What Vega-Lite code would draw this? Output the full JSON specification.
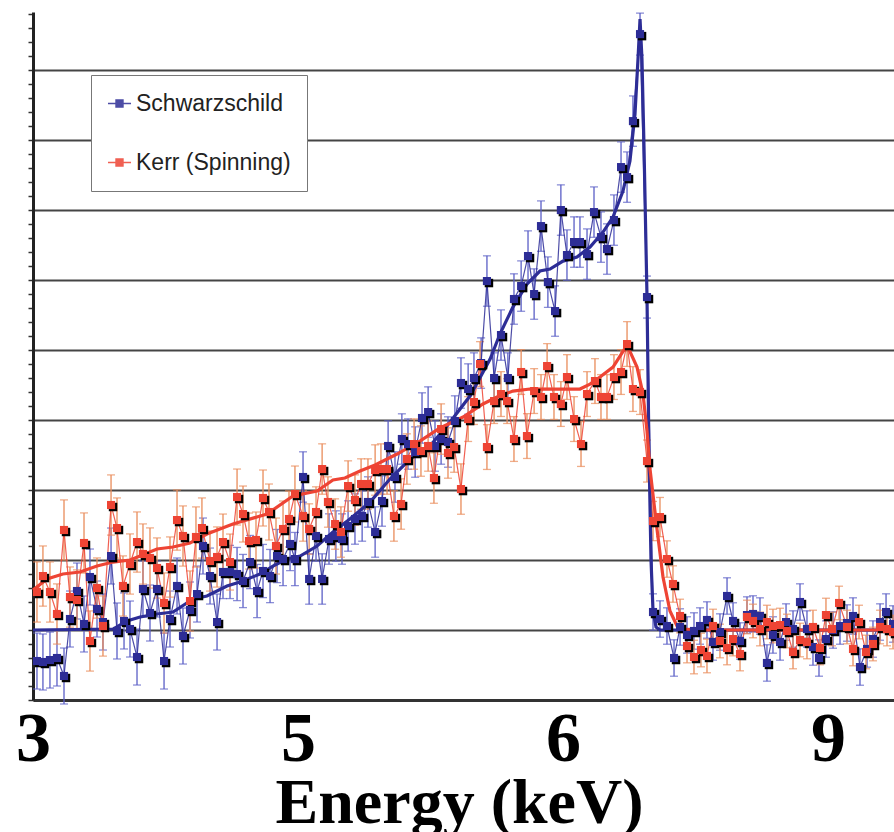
{
  "$schema": "https://vega.github.io/schema/vega-lite/v6.json",
  "width": 861,
  "height": 688,
  "autosize": "none",
  "padding": {"left": 33, "top": 12, "right": 0, "bottom": 132},
  "background": "#ffffff",
  "config": {
    "view": {"stroke": null}
  },
  "datasets": {
    "obs": [
      {"series":"Schwarzschild","energy":3.030,"counts":-0.443,"err":0.40},
      {"series":"Schwarzschild","energy":3.075,"counts":-0.457,"err":0.40},
      {"series":"Schwarzschild","energy":3.128,"counts":-0.429,"err":0.40},
      {"series":"Schwarzschild","energy":3.181,"counts":-0.400,"err":0.40},
      {"series":"Schwarzschild","energy":3.234,"counts":-0.657,"err":0.40},
      {"series":"Schwarzschild","energy":3.279,"counts":0.157,"err":0.40},
      {"series":"Schwarzschild","energy":3.332,"counts":0.557,"err":0.40},
      {"series":"Schwarzschild","energy":3.385,"counts":0.086,"err":0.40},
      {"series":"Schwarzschild","energy":3.430,"counts":0.757,"err":0.40},
      {"series":"Schwarzschild","energy":3.483,"counts":0.300,"err":0.40},
      {"series":"Schwarzschild","energy":3.528,"counts":0.114,"err":0.40},
      {"series":"Schwarzschild","energy":3.589,"counts":1.057,"err":0.40},
      {"series":"Schwarzschild","energy":3.634,"counts":-0.014,"err":0.40},
      {"series":"Schwarzschild","energy":3.687,"counts":0.129,"err":0.40},
      {"series":"Schwarzschild","energy":3.732,"counts":0.014,"err":0.40},
      {"series":"Schwarzschild","energy":3.785,"counts":-0.386,"err":0.40},
      {"series":"Schwarzschild","energy":3.830,"counts":0.586,"err":0.40},
      {"series":"Schwarzschild","energy":3.883,"counts":0.243,"err":0.40},
      {"series":"Schwarzschild","energy":3.936,"counts":0.586,"err":0.40},
      {"series":"Schwarzschild","energy":3.989,"counts":-0.443,"err":0.40},
      {"series":"Schwarzschild","energy":4.034,"counts":0.157,"err":0.40},
      {"series":"Schwarzschild","energy":4.087,"counts":0.629,"err":0.40},
      {"series":"Schwarzschild","energy":4.132,"counts":-0.086,"err":0.40},
      {"series":"Schwarzschild","energy":4.185,"counts":0.286,"err":0.40},
      {"series":"Schwarzschild","energy":4.238,"counts":0.514,"err":0.40},
      {"series":"Schwarzschild","energy":4.283,"counts":1.200,"err":0.40},
      {"series":"Schwarzschild","energy":4.336,"counts":0.771,"err":0.40},
      {"series":"Schwarzschild","energy":4.389,"counts":0.114,"err":0.40},
      {"series":"Schwarzschild","energy":4.434,"counts":0.829,"err":0.38},
      {"series":"Schwarzschild","energy":4.487,"counts":0.829,"err":0.38},
      {"series":"Schwarzschild","energy":4.540,"counts":0.800,"err":0.38},
      {"series":"Schwarzschild","energy":4.585,"counts":0.700,"err":0.38},
      {"series":"Schwarzschild","energy":4.638,"counts":0.971,"err":0.38},
      {"series":"Schwarzschild","energy":4.691,"counts":0.557,"err":0.38},
      {"series":"Schwarzschild","energy":4.736,"counts":0.843,"err":0.38},
      {"series":"Schwarzschild","energy":4.789,"counts":0.771,"err":0.38},
      {"series":"Schwarzschild","energy":4.842,"counts":1.057,"err":0.38},
      {"series":"Schwarzschild","energy":4.887,"counts":1.014,"err":0.38},
      {"series":"Schwarzschild","energy":4.940,"counts":1.229,"err":0.38},
      {"series":"Schwarzschild","energy":4.977,"counts":1.014,"err":0.38},
      {"series":"Schwarzschild","energy":5.019,"counts":2.186,"err":0.36},
      {"series":"Schwarzschild","energy":5.042,"counts":0.729,"err":0.36},
      {"series":"Schwarzschild","energy":5.068,"counts":1.343,"err":0.36},
      {"series":"Schwarzschild","energy":5.091,"counts":0.729,"err":0.36},
      {"series":"Schwarzschild","energy":5.117,"counts":1.300,"err":0.36},
      {"series":"Schwarzschild","energy":5.143,"counts":1.343,"err":0.36},
      {"series":"Schwarzschild","energy":5.166,"counts":1.300,"err":0.36},
      {"series":"Schwarzschild","energy":5.189,"counts":1.486,"err":0.36},
      {"series":"Schwarzschild","energy":5.215,"counts":1.586,"err":0.36},
      {"series":"Schwarzschild","energy":5.242,"counts":1.629,"err":0.36},
      {"series":"Schwarzschild","energy":5.264,"counts":1.829,"err":0.36},
      {"series":"Schwarzschild","energy":5.291,"counts":1.400,"err":0.36},
      {"series":"Schwarzschild","energy":5.317,"counts":1.843,"err":0.36},
      {"series":"Schwarzschild","energy":5.340,"counts":2.629,"err":0.36},
      {"series":"Schwarzschild","energy":5.366,"counts":2.186,"err":0.36},
      {"series":"Schwarzschild","energy":5.392,"counts":2.729,"err":0.36},
      {"series":"Schwarzschild","energy":5.415,"counts":2.657,"err":0.36},
      {"series":"Schwarzschild","energy":5.442,"counts":2.543,"err":0.36},
      {"series":"Schwarzschild","energy":5.468,"counts":3.029,"err":0.36},
      {"series":"Schwarzschild","energy":5.491,"counts":3.114,"err":0.36},
      {"series":"Schwarzschild","energy":5.517,"counts":2.629,"err":0.36},
      {"series":"Schwarzschild","energy":5.540,"counts":2.729,"err":0.36},
      {"series":"Schwarzschild","energy":5.566,"counts":2.686,"err":0.36},
      {"series":"Schwarzschild","energy":5.592,"counts":2.986,"err":0.36},
      {"series":"Schwarzschild","energy":5.615,"counts":3.529,"err":0.36},
      {"series":"Schwarzschild","energy":5.642,"counts":3.443,"err":0.36},
      {"series":"Schwarzschild","energy":5.664,"counts":3.600,"err":0.36},
      {"series":"Schwarzschild","energy":5.691,"counts":3.814,"err":0.36},
      {"series":"Schwarzschild","energy":5.713,"counts":4.986,"err":0.36},
      {"series":"Schwarzschild","energy":5.740,"counts":3.600,"err":0.36},
      {"series":"Schwarzschild","energy":5.766,"counts":4.214,"err":0.36},
      {"series":"Schwarzschild","energy":5.792,"counts":3.600,"err":0.36},
      {"series":"Schwarzschild","energy":5.815,"counts":4.729,"err":0.36},
      {"series":"Schwarzschild","energy":5.842,"counts":4.914,"err":0.36},
      {"series":"Schwarzschild","energy":5.868,"counts":5.343,"err":0.36},
      {"series":"Schwarzschild","energy":5.891,"counts":4.800,"err":0.36},
      {"series":"Schwarzschild","energy":5.917,"counts":5.771,"err":0.36},
      {"series":"Schwarzschild","energy":5.943,"counts":4.971,"err":0.36},
      {"series":"Schwarzschild","energy":5.970,"counts":4.557,"err":0.36},
      {"series":"Schwarzschild","energy":5.992,"counts":6.000,"err":0.36},
      {"series":"Schwarzschild","energy":6.045,"counts":5.357,"err":0.36},
      {"series":"Schwarzschild","energy":6.125,"counts":5.543,"err":0.36},
      {"series":"Schwarzschild","energy":6.192,"counts":5.543,"err":0.36},
      {"series":"Schwarzschild","energy":6.272,"counts":5.371,"err":0.36},
      {"series":"Schwarzschild","energy":6.351,"counts":5.971,"err":0.36},
      {"series":"Schwarzschild","energy":6.430,"counts":5.614,"err":0.36},
      {"series":"Schwarzschild","energy":6.498,"counts":5.443,"err":0.36},
      {"series":"Schwarzschild","energy":6.577,"counts":5.857,"err":0.36},
      {"series":"Schwarzschild","energy":6.657,"counts":6.614,"err":0.36},
      {"series":"Schwarzschild","energy":6.725,"counts":6.471,"err":0.36},
      {"series":"Schwarzschild","energy":6.792,"counts":7.271,"err":0.36},
      {"series":"Schwarzschild","energy":6.872,"counts":8.514,"err":0.30},
      {"series":"Schwarzschild","energy":6.951,"counts":4.757,"err":0.30},
      {"series":"Schwarzschild","energy":7.019,"counts":0.257,"err":0.26},
      {"series":"Schwarzschild","energy":7.098,"counts":0.157,"err":0.26},
      {"series":"Schwarzschild","energy":7.177,"counts":0.057,"err":0.26},
      {"series":"Schwarzschild","energy":7.257,"counts":-0.400,"err":0.26},
      {"series":"Schwarzschild","energy":7.325,"counts":0.043,"err":0.26},
      {"series":"Schwarzschild","energy":7.404,"counts":-0.071,"err":0.26},
      {"series":"Schwarzschild","energy":7.483,"counts":-0.014,"err":0.26},
      {"series":"Schwarzschild","energy":7.551,"counts":0.057,"err":0.26},
      {"series":"Schwarzschild","energy":7.630,"counts":0.143,"err":0.26},
      {"series":"Schwarzschild","energy":7.698,"counts":-0.171,"err":0.26},
      {"series":"Schwarzschild","energy":7.777,"counts":-0.029,"err":0.26},
      {"series":"Schwarzschild","energy":7.857,"counts":0.486,"err":0.26},
      {"series":"Schwarzschild","energy":7.925,"counts":0.129,"err":0.26},
      {"series":"Schwarzschild","energy":8.004,"counts":-0.157,"err":0.26},
      {"series":"Schwarzschild","energy":8.083,"counts":0.214,"err":0.26},
      {"series":"Schwarzschild","energy":8.151,"counts":0.229,"err":0.26},
      {"series":"Schwarzschild","energy":8.230,"counts":0.200,"err":0.26},
      {"series":"Schwarzschild","energy":8.309,"counts":-0.471,"err":0.26},
      {"series":"Schwarzschild","energy":8.377,"counts":-0.071,"err":0.26},
      {"series":"Schwarzschild","energy":8.457,"counts":-0.171,"err":0.26},
      {"series":"Schwarzschild","energy":8.525,"counts":0.114,"err":0.26},
      {"series":"Schwarzschild","energy":8.604,"counts":0.014,"err":0.26},
      {"series":"Schwarzschild","energy":8.683,"counts":0.400,"err":0.26},
      {"series":"Schwarzschild","energy":8.762,"counts":0.014,"err":0.26},
      {"series":"Schwarzschild","energy":8.830,"counts":-0.243,"err":0.26},
      {"series":"Schwarzschild","energy":8.898,"counts":-0.400,"err":0.26},
      {"series":"Schwarzschild","energy":8.977,"counts":-0.129,"err":0.26},
      {"series":"Schwarzschild","energy":9.057,"counts":0.000,"err":0.26},
      {"series":"Schwarzschild","energy":9.136,"counts":0.057,"err":0.26},
      {"series":"Schwarzschild","energy":9.215,"counts":0.100,"err":0.26},
      {"series":"Schwarzschild","energy":9.283,"counts":0.200,"err":0.26},
      {"series":"Schwarzschild","energy":9.362,"counts":-0.529,"err":0.26},
      {"series":"Schwarzschild","energy":9.442,"counts":-0.271,"err":0.26},
      {"series":"Schwarzschild","energy":9.509,"counts":-0.129,"err":0.26},
      {"series":"Schwarzschild","energy":9.589,"counts":0.114,"err":0.26},
      {"series":"Schwarzschild","energy":9.657,"counts":0.257,"err":0.26},
      {"series":"Schwarzschild","energy":9.736,"counts":0.086,"err":0.26},
      {"series":"Kerr (Spinning)","energy":3.030,"counts":0.543,"err":0.43},
      {"series":"Kerr (Spinning)","energy":3.075,"counts":0.771,"err":0.43},
      {"series":"Kerr (Spinning)","energy":3.128,"counts":0.543,"err":0.43},
      {"series":"Kerr (Spinning)","energy":3.181,"counts":0.229,"err":0.43},
      {"series":"Kerr (Spinning)","energy":3.234,"counts":1.429,"err":0.43},
      {"series":"Kerr (Spinning)","energy":3.279,"counts":0.471,"err":0.43},
      {"series":"Kerr (Spinning)","energy":3.332,"counts":0.429,"err":0.43},
      {"series":"Kerr (Spinning)","energy":3.385,"counts":1.243,"err":0.43},
      {"series":"Kerr (Spinning)","energy":3.430,"counts":-0.157,"err":0.43},
      {"series":"Kerr (Spinning)","energy":3.483,"counts":0.600,"err":0.43},
      {"series":"Kerr (Spinning)","energy":3.528,"counts":0.057,"err":0.43},
      {"series":"Kerr (Spinning)","energy":3.589,"counts":1.786,"err":0.43},
      {"series":"Kerr (Spinning)","energy":3.634,"counts":1.457,"err":0.43},
      {"series":"Kerr (Spinning)","energy":3.679,"counts":0.629,"err":0.43},
      {"series":"Kerr (Spinning)","energy":3.732,"counts":0.943,"err":0.43},
      {"series":"Kerr (Spinning)","energy":3.785,"counts":1.257,"err":0.43},
      {"series":"Kerr (Spinning)","energy":3.830,"counts":1.086,"err":0.43},
      {"series":"Kerr (Spinning)","energy":3.883,"counts":1.029,"err":0.43},
      {"series":"Kerr (Spinning)","energy":3.936,"counts":0.886,"err":0.43},
      {"series":"Kerr (Spinning)","energy":3.989,"counts":0.386,"err":0.43},
      {"series":"Kerr (Spinning)","energy":4.034,"counts":0.900,"err":0.43},
      {"series":"Kerr (Spinning)","energy":4.087,"counts":1.571,"err":0.43},
      {"series":"Kerr (Spinning)","energy":4.132,"counts":1.343,"err":0.43},
      {"series":"Kerr (Spinning)","energy":4.185,"counts":0.414,"err":0.43},
      {"series":"Kerr (Spinning)","energy":4.230,"counts":1.329,"err":0.43},
      {"series":"Kerr (Spinning)","energy":4.275,"counts":1.457,"err":0.43},
      {"series":"Kerr (Spinning)","energy":4.336,"counts":0.986,"err":0.43},
      {"series":"Kerr (Spinning)","energy":4.389,"counts":1.043,"err":0.43},
      {"series":"Kerr (Spinning)","energy":4.434,"counts":1.257,"err":0.40},
      {"series":"Kerr (Spinning)","energy":4.487,"counts":0.971,"err":0.40},
      {"series":"Kerr (Spinning)","energy":4.540,"counts":1.900,"err":0.40},
      {"series":"Kerr (Spinning)","energy":4.585,"counts":1.657,"err":0.40},
      {"series":"Kerr (Spinning)","energy":4.630,"counts":1.271,"err":0.40},
      {"series":"Kerr (Spinning)","energy":4.683,"counts":1.286,"err":0.40},
      {"series":"Kerr (Spinning)","energy":4.736,"counts":1.886,"err":0.40},
      {"series":"Kerr (Spinning)","energy":4.781,"counts":1.686,"err":0.40},
      {"series":"Kerr (Spinning)","energy":4.834,"counts":1.200,"err":0.40},
      {"series":"Kerr (Spinning)","energy":4.887,"counts":1.443,"err":0.40},
      {"series":"Kerr (Spinning)","energy":4.932,"counts":1.586,"err":0.40},
      {"series":"Kerr (Spinning)","energy":4.977,"counts":1.943,"err":0.40},
      {"series":"Kerr (Spinning)","energy":5.019,"counts":1.629,"err":0.36},
      {"series":"Kerr (Spinning)","energy":5.042,"counts":1.443,"err":0.36},
      {"series":"Kerr (Spinning)","energy":5.068,"counts":1.686,"err":0.36},
      {"series":"Kerr (Spinning)","energy":5.091,"counts":2.300,"err":0.36},
      {"series":"Kerr (Spinning)","energy":5.113,"counts":1.829,"err":0.36},
      {"series":"Kerr (Spinning)","energy":5.140,"counts":1.514,"err":0.36},
      {"series":"Kerr (Spinning)","energy":5.162,"counts":1.400,"err":0.36},
      {"series":"Kerr (Spinning)","energy":5.189,"counts":2.057,"err":0.36},
      {"series":"Kerr (Spinning)","energy":5.215,"counts":1.857,"err":0.36},
      {"series":"Kerr (Spinning)","energy":5.238,"counts":2.086,"err":0.36},
      {"series":"Kerr (Spinning)","energy":5.264,"counts":2.086,"err":0.36},
      {"series":"Kerr (Spinning)","energy":5.291,"counts":2.286,"err":0.36},
      {"series":"Kerr (Spinning)","energy":5.313,"counts":2.300,"err":0.36},
      {"series":"Kerr (Spinning)","energy":5.336,"counts":2.300,"err":0.36},
      {"series":"Kerr (Spinning)","energy":5.362,"counts":1.629,"err":0.36},
      {"series":"Kerr (Spinning)","energy":5.389,"counts":1.800,"err":0.36},
      {"series":"Kerr (Spinning)","energy":5.411,"counts":2.443,"err":0.36},
      {"series":"Kerr (Spinning)","energy":5.438,"counts":2.657,"err":0.36},
      {"series":"Kerr (Spinning)","energy":5.464,"counts":2.557,"err":0.36},
      {"series":"Kerr (Spinning)","energy":5.491,"counts":2.629,"err":0.36},
      {"series":"Kerr (Spinning)","energy":5.513,"counts":2.171,"err":0.36},
      {"series":"Kerr (Spinning)","energy":5.540,"counts":2.871,"err":0.36},
      {"series":"Kerr (Spinning)","energy":5.566,"counts":2.529,"err":0.36},
      {"series":"Kerr (Spinning)","energy":5.589,"counts":2.614,"err":0.36},
      {"series":"Kerr (Spinning)","energy":5.615,"counts":2.014,"err":0.36},
      {"series":"Kerr (Spinning)","energy":5.642,"counts":3.014,"err":0.32},
      {"series":"Kerr (Spinning)","energy":5.664,"counts":3.257,"err":0.32},
      {"series":"Kerr (Spinning)","energy":5.687,"counts":3.800,"err":0.32},
      {"series":"Kerr (Spinning)","energy":5.713,"counts":2.614,"err":0.32},
      {"series":"Kerr (Spinning)","energy":5.740,"counts":3.271,"err":0.32},
      {"series":"Kerr (Spinning)","energy":5.766,"counts":3.371,"err":0.32},
      {"series":"Kerr (Spinning)","energy":5.789,"counts":3.271,"err":0.32},
      {"series":"Kerr (Spinning)","energy":5.815,"counts":2.729,"err":0.32},
      {"series":"Kerr (Spinning)","energy":5.842,"counts":3.686,"err":0.32},
      {"series":"Kerr (Spinning)","energy":5.864,"counts":2.771,"err":0.32},
      {"series":"Kerr (Spinning)","energy":5.891,"counts":3.414,"err":0.32},
      {"series":"Kerr (Spinning)","energy":5.917,"counts":3.329,"err":0.32},
      {"series":"Kerr (Spinning)","energy":5.940,"counts":3.771,"err":0.32},
      {"series":"Kerr (Spinning)","energy":5.966,"counts":3.329,"err":0.32},
      {"series":"Kerr (Spinning)","energy":5.992,"counts":3.229,"err":0.32},
      {"series":"Kerr (Spinning)","energy":6.045,"counts":3.614,"err":0.32},
      {"series":"Kerr (Spinning)","energy":6.125,"counts":3.014,"err":0.32},
      {"series":"Kerr (Spinning)","energy":6.204,"counts":2.657,"err":0.32},
      {"series":"Kerr (Spinning)","energy":6.272,"counts":3.371,"err":0.32},
      {"series":"Kerr (Spinning)","energy":6.362,"counts":3.557,"err":0.32},
      {"series":"Kerr (Spinning)","energy":6.430,"counts":3.329,"err":0.32},
      {"series":"Kerr (Spinning)","energy":6.498,"counts":3.329,"err":0.32},
      {"series":"Kerr (Spinning)","energy":6.577,"counts":3.614,"err":0.32},
      {"series":"Kerr (Spinning)","energy":6.657,"counts":3.686,"err":0.32},
      {"series":"Kerr (Spinning)","energy":6.725,"counts":4.086,"err":0.32},
      {"series":"Kerr (Spinning)","energy":6.792,"counts":3.443,"err":0.32},
      {"series":"Kerr (Spinning)","energy":6.872,"counts":3.400,"err":0.32},
      {"series":"Kerr (Spinning)","energy":6.951,"counts":2.414,"err":0.30},
      {"series":"Kerr (Spinning)","energy":7.019,"counts":1.557,"err":0.28},
      {"series":"Kerr (Spinning)","energy":7.098,"counts":1.614,"err":0.28},
      {"series":"Kerr (Spinning)","energy":7.177,"counts":1.014,"err":0.26},
      {"series":"Kerr (Spinning)","energy":7.245,"counts":0.657,"err":0.26},
      {"series":"Kerr (Spinning)","energy":7.325,"counts":0.200,"err":0.24},
      {"series":"Kerr (Spinning)","energy":7.404,"counts":-0.229,"err":0.24},
      {"series":"Kerr (Spinning)","energy":7.483,"counts":-0.386,"err":0.24},
      {"series":"Kerr (Spinning)","energy":7.562,"counts":-0.286,"err":0.24},
      {"series":"Kerr (Spinning)","energy":7.630,"counts":-0.371,"err":0.24},
      {"series":"Kerr (Spinning)","energy":7.698,"counts":0.057,"err":0.24},
      {"series":"Kerr (Spinning)","energy":7.777,"counts":-0.157,"err":0.24},
      {"series":"Kerr (Spinning)","energy":7.857,"counts":-0.257,"err":0.24},
      {"series":"Kerr (Spinning)","energy":7.925,"counts":-0.129,"err":0.24},
      {"series":"Kerr (Spinning)","energy":8.004,"counts":-0.343,"err":0.24},
      {"series":"Kerr (Spinning)","energy":8.083,"counts":0.186,"err":0.24},
      {"series":"Kerr (Spinning)","energy":8.151,"counts":0.129,"err":0.24},
      {"series":"Kerr (Spinning)","energy":8.230,"counts":0.014,"err":0.24},
      {"series":"Kerr (Spinning)","energy":8.309,"counts":0.114,"err":0.24},
      {"series":"Kerr (Spinning)","energy":8.377,"counts":0.057,"err":0.24},
      {"series":"Kerr (Spinning)","energy":8.457,"counts":0.071,"err":0.24},
      {"series":"Kerr (Spinning)","energy":8.536,"counts":-0.014,"err":0.24},
      {"series":"Kerr (Spinning)","energy":8.604,"counts":-0.314,"err":0.24},
      {"series":"Kerr (Spinning)","energy":8.683,"counts":-0.143,"err":0.24},
      {"series":"Kerr (Spinning)","energy":8.762,"counts":-0.171,"err":0.24},
      {"series":"Kerr (Spinning)","energy":8.830,"counts":0.043,"err":0.24},
      {"series":"Kerr (Spinning)","energy":8.909,"counts":-0.257,"err":0.24},
      {"series":"Kerr (Spinning)","energy":8.977,"counts":0.214,"err":0.24},
      {"series":"Kerr (Spinning)","energy":9.045,"counts":0.014,"err":0.24},
      {"series":"Kerr (Spinning)","energy":9.125,"counts":0.386,"err":0.24},
      {"series":"Kerr (Spinning)","energy":9.215,"counts":0.043,"err":0.24},
      {"series":"Kerr (Spinning)","energy":9.283,"counts":-0.271,"err":0.24},
      {"series":"Kerr (Spinning)","energy":9.351,"counts":0.114,"err":0.24},
      {"series":"Kerr (Spinning)","energy":9.430,"counts":-0.314,"err":0.24},
      {"series":"Kerr (Spinning)","energy":9.509,"counts":-0.200,"err":0.24},
      {"series":"Kerr (Spinning)","energy":9.589,"counts":0.043,"err":0.24},
      {"series":"Kerr (Spinning)","energy":9.668,"counts":0.014,"err":0.24},
      {"series":"Kerr (Spinning)","energy":9.736,"counts":-0.029,"err":0.24}
    ],
    "model": [
      {"series":"Schwarzschild","energy":3.000,"counts":0.000},
      {"series":"Schwarzschild","energy":3.604,"counts":0.014},
      {"series":"Schwarzschild","energy":3.709,"counts":0.129},
      {"series":"Schwarzschild","energy":3.808,"counts":0.186},
      {"series":"Schwarzschild","energy":3.936,"counts":0.229},
      {"series":"Schwarzschild","energy":4.057,"counts":0.257},
      {"series":"Schwarzschild","energy":4.208,"counts":0.443},
      {"series":"Schwarzschild","energy":4.313,"counts":0.486},
      {"series":"Schwarzschild","energy":4.464,"counts":0.629},
      {"series":"Schwarzschild","energy":4.562,"counts":0.686},
      {"series":"Schwarzschild","energy":4.713,"counts":0.800},
      {"series":"Schwarzschild","energy":4.811,"counts":0.914},
      {"series":"Schwarzschild","energy":4.917,"counts":1.014},
      {"series":"Schwarzschild","energy":5.008,"counts":1.057},
      {"series":"Schwarzschild","energy":5.072,"counts":1.200},
      {"series":"Schwarzschild","energy":5.132,"counts":1.400},
      {"series":"Schwarzschild","energy":5.196,"counts":1.586},
      {"series":"Schwarzschild","energy":5.272,"counts":1.829},
      {"series":"Schwarzschild","energy":5.347,"counts":2.157},
      {"series":"Schwarzschild","energy":5.423,"counts":2.443},
      {"series":"Schwarzschild","energy":5.498,"counts":2.629},
      {"series":"Schwarzschild","energy":5.574,"counts":2.971},
      {"series":"Schwarzschild","energy":5.649,"counts":3.343},
      {"series":"Schwarzschild","energy":5.725,"counts":3.871},
      {"series":"Schwarzschild","energy":5.762,"counts":4.229},
      {"series":"Schwarzschild","energy":5.811,"counts":4.614},
      {"series":"Schwarzschild","energy":5.864,"counts":4.943},
      {"series":"Schwarzschild","energy":5.913,"counts":5.129},
      {"series":"Schwarzschild","energy":5.951,"counts":5.157},
      {"series":"Schwarzschild","energy":6.000,"counts":5.271},
      {"series":"Schwarzschild","energy":6.158,"counts":5.329},
      {"series":"Schwarzschild","energy":6.306,"counts":5.471},
      {"series":"Schwarzschild","energy":6.453,"counts":5.686},
      {"series":"Schwarzschild","energy":6.566,"counts":5.900},
      {"series":"Schwarzschild","energy":6.679,"counts":6.271},
      {"series":"Schwarzschild","energy":6.758,"counts":6.700},
      {"series":"Schwarzschild","energy":6.815,"counts":7.371},
      {"series":"Schwarzschild","energy":6.849,"counts":8.157},
      {"series":"Schwarzschild","energy":6.872,"counts":8.729},
      {"series":"Schwarzschild","energy":6.894,"counts":8.157},
      {"series":"Schwarzschild","energy":6.917,"counts":6.900},
      {"series":"Schwarzschild","energy":6.951,"counts":4.757},
      {"series":"Schwarzschild","energy":6.973,"counts":2.586},
      {"series":"Schwarzschild","energy":6.996,"counts":1.014},
      {"series":"Schwarzschild","energy":7.019,"counts":0.271},
      {"series":"Schwarzschild","energy":7.053,"counts":0.043},
      {"series":"Schwarzschild","energy":7.098,"counts":0.000},
      {"series":"Schwarzschild","energy":9.747,"counts":0.000},
      {"series":"Kerr (Spinning)","energy":3.000,"counts":0.571},
      {"series":"Kerr (Spinning)","energy":3.106,"counts":0.729},
      {"series":"Kerr (Spinning)","energy":3.226,"counts":0.800},
      {"series":"Kerr (Spinning)","energy":3.355,"counts":0.829},
      {"series":"Kerr (Spinning)","energy":3.483,"counts":0.914},
      {"series":"Kerr (Spinning)","energy":3.604,"counts":0.971},
      {"series":"Kerr (Spinning)","energy":3.732,"counts":1.000},
      {"series":"Kerr (Spinning)","energy":3.808,"counts":1.057},
      {"series":"Kerr (Spinning)","energy":3.936,"counts":1.157},
      {"series":"Kerr (Spinning)","energy":4.057,"counts":1.186},
      {"series":"Kerr (Spinning)","energy":4.185,"counts":1.243},
      {"series":"Kerr (Spinning)","energy":4.313,"counts":1.371},
      {"series":"Kerr (Spinning)","energy":4.509,"counts":1.514},
      {"series":"Kerr (Spinning)","energy":4.766,"counts":1.657},
      {"series":"Kerr (Spinning)","energy":4.962,"counts":1.914},
      {"series":"Kerr (Spinning)","energy":5.072,"counts":1.986},
      {"series":"Kerr (Spinning)","energy":5.132,"counts":2.143},
      {"series":"Kerr (Spinning)","energy":5.177,"counts":2.171},
      {"series":"Kerr (Spinning)","energy":5.234,"counts":2.271},
      {"series":"Kerr (Spinning)","energy":5.291,"counts":2.357},
      {"series":"Kerr (Spinning)","energy":5.374,"counts":2.514},
      {"series":"Kerr (Spinning)","energy":5.460,"counts":2.700},
      {"series":"Kerr (Spinning)","energy":5.536,"counts":2.886},
      {"series":"Kerr (Spinning)","energy":5.623,"counts":3.043},
      {"series":"Kerr (Spinning)","energy":5.698,"counts":3.229},
      {"series":"Kerr (Spinning)","energy":5.751,"counts":3.329},
      {"series":"Kerr (Spinning)","energy":5.811,"counts":3.414},
      {"series":"Kerr (Spinning)","energy":5.875,"counts":3.443},
      {"series":"Kerr (Spinning)","energy":6.000,"counts":3.443},
      {"series":"Kerr (Spinning)","energy":6.192,"counts":3.443},
      {"series":"Kerr (Spinning)","energy":6.306,"counts":3.514},
      {"series":"Kerr (Spinning)","energy":6.419,"counts":3.614},
      {"series":"Kerr (Spinning)","energy":6.566,"counts":3.757},
      {"series":"Kerr (Spinning)","energy":6.725,"counts":4.071},
      {"series":"Kerr (Spinning)","energy":6.838,"counts":3.757},
      {"series":"Kerr (Spinning)","energy":6.906,"counts":3.371},
      {"series":"Kerr (Spinning)","energy":6.951,"counts":2.843},
      {"series":"Kerr (Spinning)","energy":6.985,"counts":2.300},
      {"series":"Kerr (Spinning)","energy":7.064,"counts":1.443},
      {"series":"Kerr (Spinning)","energy":7.132,"counts":0.757},
      {"series":"Kerr (Spinning)","energy":7.211,"counts":0.271},
      {"series":"Kerr (Spinning)","energy":7.291,"counts":0.057},
      {"series":"Kerr (Spinning)","energy":7.358,"counts":0.014},
      {"series":"Kerr (Spinning)","energy":7.551,"counts":0.000},
      {"series":"Kerr (Spinning)","energy":9.747,"counts":0.000}
    ]
  },
  "encoding": {
    "x": {
      "field": "energy",
      "type": "quantitative",
      "scale": {"domain": [3, 5, 6, 9, 9.747], "range": [0, 265, 530, 795, 861], "zero": false, "nice": false},
      "axis": {
        "values": [3, 5, 6, 9],
        "format": "d",
        "ticks": false,
        "grid": false,
        "domainColor": "#333333",
        "domainWidth": 3,
        "labelFont": "Liberation Serif",
        "labelFontWeight": "bold",
        "labelFontSize": 70,
        "labelColor": "#000000",
        "labelPadding": 5,
        "labelBaseline": "top",
        "labelFlush": false,
        "labelOverlap": false,
        "title": "Energy (keV)",
        "titleFont": "Liberation Serif",
        "titleFontWeight": "bold",
        "titleFontSize": 64,
        "titleColor": "#000000",
        "titleX": 426,
        "titleY": 122,
        "titleBaseline": "alphabetic",
        "titleAlign": "center"
      }
    },
    "y": {
      "field": "counts",
      "type": "quantitative",
      "title": null,
      "scale": {"domain": [-1, 8.83], "zero": false, "nice": false},
      "axis": {
        "values": [-1,-0.8,-0.6,-0.4,-0.2,0,0.2,0.4,0.6,0.8,1,1.2,1.4,1.6,1.8,2,2.2,2.4,2.6,2.8,3,3.2,3.4,3.6,3.8,4,4.2,4.4,4.6,4.8,5,5.2,5.4,5.6,5.8,6,6.2,6.4,6.6,6.8,7,7.2,7.4,7.6,7.8,8,8.2,8.4,8.6,8.8],
        "labels": false,
        "title": null,
        "ticks": true,
        "tickSize": 5,
        "tickColor": "#333333",
        "tickWidth": 1.5,
        "domainColor": "#222222",
        "domainWidth": 3,
        "grid": true,
        "gridColor": "#444444",
        "gridWidth": 1.8,
        "gridOpacity": {"condition": {"test": "abs(datum.value - round(datum.value)) < 0.01", "value": 1}, "value": 0}
      }
    }
  },
  "layer": [
    {
      "data": {"name": "obs"},
      "mark": {"type": "errorbar", "ticks": {"size": 8}, "thickness": 1.3, "color": "#5a5ec6"},
      "transform": [{"filter": "datum.series === 'Schwarzschild'"}],
      "encoding": {"yError": {"field": "err"}}
    },
    {
      "data": {"name": "obs"},
      "mark": {"type": "errorbar", "ticks": {"size": 8}, "thickness": 1.3, "color": "#e98c5a"},
      "transform": [{"filter": "datum.series === 'Kerr (Spinning)'"}],
      "encoding": {"yError": {"field": "err"}}
    },
    {
      "mark": {"type": "rule", "color": "#111111", "strokeWidth": 3},
      "encoding": {"y": {"datum": 0}, "x": null}
    },
    {
      "mark": {"type": "rule", "color": "#333333", "strokeWidth": 3},
      "encoding": {"y": {"datum": 8.83}, "x": null}
    },
    {
      "data": {"name": "obs"},
      "mark": {"type": "line", "strokeWidth": 1.2, "opacity": 0.85},
      "encoding": {
        "color": {"field": "series", "type": "nominal"}
      }
    },
    {
      "data": {"name": "model"},
      "mark": {"type": "line", "strokeWidth": 3.2},
      "encoding": {
        "color": {"field": "series", "type": "nominal"}
      }
    },
    {
      "data": {"name": "obs"},
      "mark": {"type": "square", "size": 72, "color": "#000000", "opacity": 1, "filled": true, "xOffset": 2, "yOffset": 2}
    },
    {
      "data": {"name": "obs"},
      "mark": {"type": "square", "size": 66, "opacity": 1, "filled": true},
      "encoding": {
        "color": {
          "field": "series",
          "type": "nominal",
          "scale": {"domain": ["Schwarzschild", "Kerr (Spinning)"], "range": ["#2d2d96", "#ee4434"]},
          "legend": {
            "orient": "none",
            "legendX": 58,
            "legendY": 63,
            "title": null,
            "direction": "vertical",
            "fillColor": "#ffffff",
            "strokeColor": "#777777",
            "padding": 16,
            "rowPadding": 34,
            "labelFont": "Liberation Sans",
            "labelFontSize": 23,
            "labelLimit": 400,
            "labelColor": "#222222",
            "labelOffset": 4,
            "symbolType": "M-1,0H-0.3M0.3,0H1M-0.3,-0.3H0.3V0.3H-0.3Z",
            "symbolSize": 530,
            "symbolStrokeWidth": 1.5,
            "encode": {
              "symbols": {
                "update": {
                  "fill": {"scale": "color", "field": "value"},
                  "stroke": {"scale": "color", "field": "value"},
                  "opacity": {"value": 1}
                }
              }
            }
          }
        }
      }
    }
  ]
}
